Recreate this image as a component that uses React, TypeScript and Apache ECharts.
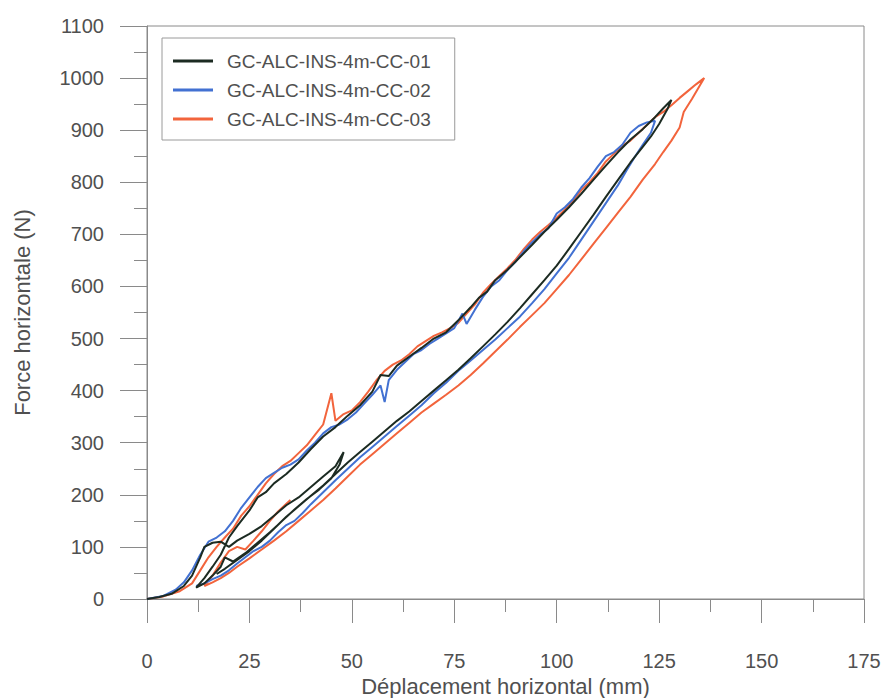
import React, { useEffect, useRef } from "react";
import * as echarts from "echarts";

const seriesNames = ["GC-ALC-INS-4m-CC-01", "GC-ALC-INS-4m-CC-02", "GC-ALC-INS-4m-CC-03"];
const seriesColors = ["#1c2b22", "#4271d2", "#f2643c"];

const xTicks = [0, 25, 50, 75, 100, 125, 150, 175];
const yTicks = [0, 100, 200, 300, 400, 500, 600, 700, 800, 900, 1000, 1100];

// GC-ALC-INS-4m-CC-01 : displacement (mm), force (N)
const cc01: number[][] = [
  [0, 0], [3, 4], [6, 10], [9, 25], [11, 45], [13, 80], [14, 100], [16, 108], [18, 110], [20, 100],
  [22, 112], [25, 125], [28, 140], [31, 160], [34, 180], [37, 195], [40, 215], [43, 235], [46, 255], [48, 282],
  [47, 258], [45, 232], [42, 210], [39, 192], [36, 172], [33, 150], [30, 128], [27, 108], [24, 88], [21, 72],
  [19, 80], [18, 62], [16, 45], [14, 30], [12, 22],
  [14, 40], [16, 62], [18, 85], [20, 118], [22, 140], [25, 170], [27, 195], [29, 205], [31, 222], [34, 240],
  [37, 262], [40, 288], [43, 312], [46, 330], [49, 352], [52, 372], [55, 398], [57, 430], [59, 428], [61, 448],
  [64, 465], [67, 482], [70, 500], [73, 512], [76, 535], [79, 560], [81, 578], [83, 590], [85, 612], [88, 632],
  [91, 656], [94, 680], [97, 705], [100, 728], [103, 752], [106, 778], [109, 805], [112, 832], [115, 858],
  [118, 882], [121, 902], [124, 925], [126, 942], [128, 958],
  [127, 940], [125, 912], [123, 888], [121, 868], [118, 838], [115, 805], [112, 772], [109, 738], [106, 705],
  [103, 672], [100, 640], [97, 612], [94, 585], [91, 558], [88, 532], [85, 508], [82, 485], [79, 462], [76, 440],
  [73, 420], [70, 400], [67, 380], [64, 360], [61, 342], [58, 322], [55, 302], [52, 282], [49, 262], [46, 240],
  [43, 218], [40, 198], [37, 178], [34, 158], [31, 135], [28, 112], [25, 92], [22, 75], [19, 58], [17, 48],
];

// GC-ALC-INS-4m-CC-02
const cc02: number[][] = [
  [0, 0], [4, 6], [7, 18], [9, 32], [11, 55], [13, 85], [15, 110], [17, 118], [19, 130], [21, 150],
  [23, 175], [25, 195], [27, 215], [29, 232], [31, 242], [33, 252], [35, 258], [37, 268], [39, 285], [41, 300],
  [43, 318], [45, 330], [47, 335], [49, 345], [51, 358], [53, 375], [55, 392], [57, 410], [58, 378], [59, 420],
  [61, 440], [63, 455], [65, 470], [67, 478], [69, 490], [71, 500], [73, 510], [75, 520], [77, 548], [78, 528],
  [80, 555], [82, 580], [84, 600], [86, 612], [88, 632], [90, 648], [92, 668], [94, 685], [96, 700], [98, 712],
  [100, 740], [102, 752], [104, 768], [106, 790], [108, 808], [110, 830], [112, 850], [114, 858], [116, 872],
  [118, 895], [120, 908], [122, 915], [124, 918],
  [123, 895], [121, 872], [119, 848], [117, 822], [115, 795], [112, 760], [109, 725], [106, 690], [103, 655],
  [100, 625], [97, 595], [94, 568], [91, 542], [88, 520], [85, 498], [82, 478], [79, 458], [76, 438], [73, 415],
  [70, 395], [67, 372], [64, 352], [61, 332], [58, 312], [55, 292], [52, 272], [49, 250], [46, 228], [43, 205],
  [40, 182], [38, 165], [36, 150], [34, 142], [32, 128], [30, 112], [28, 100], [26, 92], [24, 80], [22, 68],
  [20, 55], [18, 45], [16, 38], [14, 30], [12, 25],
];

// GC-ALC-INS-4m-CC-03
const cc03: number[][] = [
  [0, 0], [4, 5], [8, 15], [11, 30], [13, 55], [15, 80], [17, 100], [19, 118], [21, 135], [23, 160],
  [25, 178], [27, 200], [29, 222], [31, 240], [33, 255], [35, 265], [37, 280], [39, 295], [41, 315], [43, 335],
  [45, 395], [46, 342], [48, 355], [50, 362], [52, 378], [54, 398], [56, 420], [58, 438], [60, 450], [62, 458],
  [64, 470], [66, 485], [68, 495], [70, 505], [72, 512], [74, 520], [76, 530], [78, 548], [80, 565], [82, 588],
  [84, 605], [86, 620], [88, 635], [90, 652], [92, 672], [94, 690], [96, 705], [98, 718], [100, 732], [102, 748],
  [104, 765], [106, 785], [108, 800], [110, 818], [112, 840], [114, 855], [116, 870], [118, 880], [120, 895],
  [122, 910], [124, 925], [126, 935], [128, 948], [130, 962], [132, 975], [134, 988], [136, 1000],
  [133, 960], [131, 935], [130, 905], [128, 880], [126, 858], [124, 835], [121, 805], [118, 772], [115, 742],
  [112, 712], [109, 682], [106, 652], [103, 622], [100, 595], [97, 568], [94, 545], [91, 522], [88, 498],
  [85, 475], [82, 452], [79, 430], [76, 410], [73, 392], [70, 375], [67, 358], [64, 338], [61, 318], [58, 298],
  [55, 278], [52, 258], [49, 235], [46, 212], [43, 190], [40, 170], [37, 150], [34, 130], [31, 112], [28, 95],
  [25, 78], [22, 62], [20, 50], [18, 40], [16, 32], [14, 25],
  [16, 45], [18, 70], [20, 92], [22, 100], [24, 95], [26, 112], [28, 130], [30, 150], [32, 168], [35, 190],
];

const seriesData = [cc01, cc02, cc03];

const FONT = "'Liberation Sans', Arial, sans-serif";
const TEXT = "#505050";
const AXIS = "#8a8a8a";

export default function App() {
  const ref = useRef<HTMLDivElement>(null);
  useEffect(() => {
    if (!ref.current) return;
    const chart = echarts.init(ref.current, null, { renderer: "svg" });
    chart.setOption({
      animation: false,
      backgroundColor: "#ffffff",
      grid: {
        left: 147, right: 22, top: 26, bottom: 99,
        show: true, borderColor: AXIS, borderWidth: 1,
        containLabel: false, outerBoundsMode: "none",
      },
      legend: {
        orient: "vertical",
        left: 162,
        top: 38,
        padding: [13, 24, 11, 11],
        itemGap: 9,
        itemWidth: 40,
        itemHeight: 3,
        icon: "rect",
        borderColor: "#9a9a9a",
        borderWidth: 1,
        textStyle: { fontFamily: FONT, fontSize: 19, color: TEXT, lineHeight: 20, padding: [0, 0, 0, 9] },
        data: seriesNames,
      },
      xAxis: {
        type: "value",
        min: xTicks[0],
        max: xTicks[xTicks.length - 1],
        interval: 25,
        name: "Déplacement horizontal (mm)",
        nameLocation: "middle",
        nameGap: 69,
        nameTextStyle: { fontFamily: FONT, fontSize: 22, color: TEXT },
        axisLine: { show: true, lineStyle: { color: AXIS, width: 1 } },
        axisTick: { show: true, inside: false, length: 24, lineStyle: { color: AXIS } },
        minorTick: { show: true, splitNumber: 2, length: 13, lineStyle: { color: AXIS } },
        axisLabel: { fontFamily: FONT, fontSize: 20, color: TEXT, margin: 52, formatter: (v: number) => String(v) },
        splitLine: { show: false },
      },
      yAxis: {
        type: "value",
        min: yTicks[0],
        max: yTicks[yTicks.length - 1],
        interval: 100,
        name: "Force horizontale (N)",
        nameLocation: "middle",
        nameGap: 114,
        nameTextStyle: { fontFamily: FONT, fontSize: 22, color: TEXT },
        axisLine: { show: true, lineStyle: { color: AXIS, width: 1 } },
        axisTick: { show: true, inside: false, length: 27, lineStyle: { color: AXIS } },
        minorTick: { show: true, splitNumber: 2, length: 13, lineStyle: { color: AXIS } },
        axisLabel: { fontFamily: FONT, fontSize: 20, color: TEXT, margin: 43, formatter: (v: number) => String(v) },
        splitLine: { show: false },
      },
      series: seriesNames.map((name, i) => ({
        name,
        type: "line",
        data: seriesData[i],
        symbol: "none",
        showSymbol: false,
        smooth: false,
        z: 3 - i,
        color: seriesColors[i],
        lineStyle: { color: seriesColors[i], width: 2 },
      })),
    });
    return () => chart.dispose();
  }, []);
  return <div ref={ref} style={{ position: "fixed", left: 0, top: 0, width: 886, height: 698 }} />;
}
